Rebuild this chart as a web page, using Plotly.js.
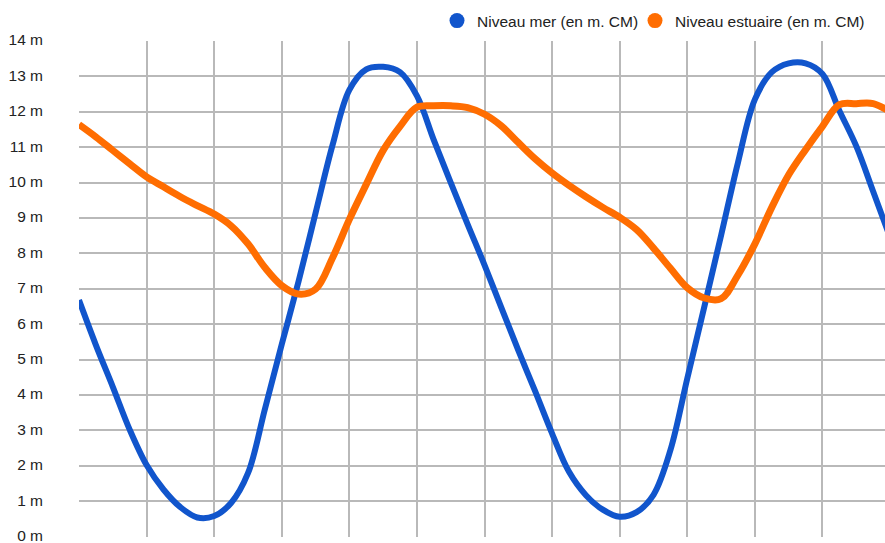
<!DOCTYPE html>
<html>
<head>
<meta charset="utf-8">
<script src="https://cdn.plot.ly/plotly-3.0.1.min.js"></script>
<style>html,body{margin:0;padding:0;background:#fff;}#chart{width:885px;height:543px;}</style>
</head>
<body>
<div id="chart"></div>
<script>
// Time (hours), one reading every half hour
const hours = [0,0.5,1,1.5,2,2.5,3,3.5,4,4.5,5,5.5,6,6.5,7,7.5,8,8.5,9,9.5,10,10.5,11,11.5,12,
  12.5,13,13.5,14,14.5,15,15.5,16,16.5,17,17.5,18,18.5,19,19.5,20,20.5,21,21.5,22,22.5,23,23.5,24];

// Niveau mer (en m. CM)
const niveauMer = [6.68,5.41,4.23,3.02,2.02,1.33,0.83,0.54,0.58,0.95,1.79,3.6,5.43,7.22,9.14,11.05,12.62,13.2,13.27,13.12,12.45,11.2,10.0,8.82,7.67,
  6.46,5.26,4.1,2.91,1.83,1.17,0.76,0.56,0.69,1.18,2.44,4.47,6.48,8.51,10.57,12.35,13.12,13.37,13.37,13.07,12.03,11.03,9.75,8.45];

// Niveau estuaire (en m. CM)
const niveauEstuaire = [11.64,11.29,10.91,10.53,10.16,9.88,9.6,9.35,9.11,8.78,8.27,7.6,7.09,6.85,6.99,7.87,8.96,9.95,10.91,11.59,12.13,12.17,12.17,12.12,11.93,
  11.6,11.13,10.67,10.27,9.92,9.6,9.3,9.02,8.67,8.15,7.58,7.03,6.74,6.72,7.39,8.27,9.3,10.22,10.93,11.59,12.2,12.23,12.23,12.0];

const seriesNames = ['Niveau mer (en m. CM)', 'Niveau estuaire (en m. CM)'];
const seriesColors = ['#1155cc', '#ff6d01'];
const xGridHours = [2,4,6,8,10,12,14,16,18,20,22];
const yTicks = [0,1,2,3,4,5,6,7,8,9,10,11,12,13,14];
const yTickText = yTicks.map(v => v + ' m');

const font = {family: 'Liberation Sans, Arial, sans-serif', size: 15.5, color: '#222222'};

const W = 885, H = 543, L = 79, R = 0, T = 41, B = 6;
const plotW = W - L - R, plotH = H - T - B;

const traces = [
  {x: hours, y: niveauMer, mode: 'lines', line: {color: seriesColors[0], width: 6, shape: 'spline'}, showlegend: false, hoverinfo: 'skip'},
  {x: hours, y: niveauEstuaire, mode: 'lines', line: {color: seriesColors[1], width: 7, shape: 'spline'}, showlegend: false, hoverinfo: 'skip'},
  {x: [null], y: [null], mode: 'markers', name: seriesNames[0], legend: 'legend', marker: {color: seriesColors[0], size: 15}},
  {x: [null], y: [null], mode: 'markers', name: seriesNames[1], legend: 'legend2', marker: {color: seriesColors[1], size: 15}}
];

const legendBase = {orientation: 'h', xanchor: 'left', y: 1 + 20 / plotH, yanchor: 'middle',
                    font: font, bgcolor: 'rgba(0,0,0,0)', borderwidth: 0};

const layout = {
  width: W, height: H,
  margin: {l: L, r: R, t: T, b: B},
  paper_bgcolor: '#ffffff', plot_bgcolor: '#ffffff',
  font: font,
  showlegend: true,
  legend: Object.assign({}, legendBase, {x: (437 - L) / plotW}),
  legend2: Object.assign({}, legendBase, {x: (635 - L) / plotW}),
  xaxis: {range: [0, 23.85], tickmode: 'array', tickvals: xGridHours, showticklabels: false,
          ticks: '', showgrid: true, gridcolor: '#b9b9b9', gridwidth: 2, zeroline: false, showline: false},
  yaxis: {range: [-0.012, 14.0], tickmode: 'array', tickvals: yTicks, ticktext: yTickText,
          ticks: '', ticklabelstandoff: 35, ticklabelshift: -1, ticklabeloverflow: 'allow', showgrid: true, gridcolor: '#b9b9b9', gridwidth: 2,
          zeroline: false, showline: false, tickfont: font}
};

Plotly.newPlot('chart', traces, layout, {staticPlot: true, displayModeBar: false});
</script>
</body>
</html>
